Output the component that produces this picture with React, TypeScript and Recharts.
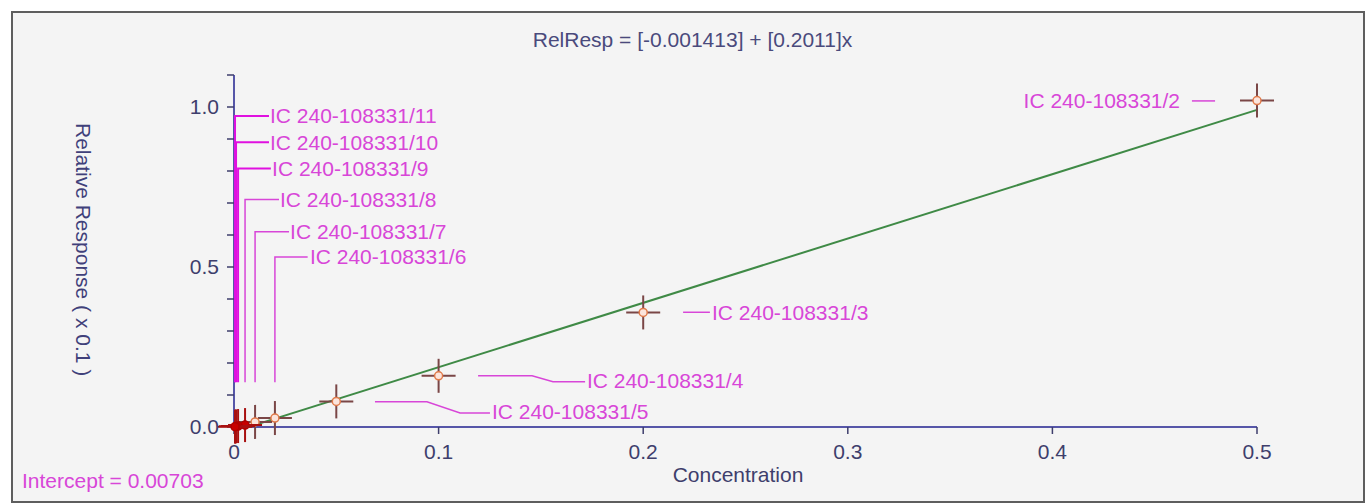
import React from 'react';
import { ComposedChart, XAxis, YAxis, Scatter } from 'recharts';

// ---- data ----
const sampleNames = [
  'IC 240-108331/2',
  'IC 240-108331/3',
  'IC 240-108331/4',
  'IC 240-108331/5',
  'IC 240-108331/6',
  'IC 240-108331/7',
  'IC 240-108331/8',
  'IC 240-108331/9',
  'IC 240-108331/10',
  'IC 240-108331/11',
];
const concentrations = [0.5, 0.2, 0.1, 0.05, 0.02, 0.0103, 0.0054, 0.002, 0.001, 0.0005];
const relResponses = [1.02, 0.358, 0.16, 0.08, 0.028, 0.016, 0.006, 0.003, 0.002, 0.001];
const sampleGroup = ['std', 'std', 'std', 'std', 'std', 'std', 'low', 'low', 'low', 'low'];

// regression line end points (x-intercept 0.00703 to x = 0.5)
const fitConcentrations = [0.00703, 0.5];
const fitResponses = [0, 0.991];

const xTicks = [0, 0.1, 0.2, 0.3, 0.4, 0.5];
const yTicks = [0, 0.1, 0.2, 0.3, 0.4, 0.5, 0.6, 0.7, 0.8, 0.9, 1.0, 1.1];
const yTickLabels = ['0.0', '', '', '', '', '0.5', '', '', '', '', '1.0', ''];
const xTickLabels = ['0', '0.1', '0.2', '0.3', '0.4', '0.5'];

const titleText = 'RelResp = [-0.001413] + [0.2011]x';
const xAxisTitle = 'Concentration';
const yAxisTitle = 'Relative Response ( x 0.1 )';
const interceptText = 'Intercept = 0.00703';

// annotation layout (in data units): label anchor and leader polyline per sample
const labelTextX = [0.4624, 0.2336, 0.1725, 0.1261, 0.0371, 0.0274, 0.0225, 0.0186, 0.0176, 0.0176];
const labelTextY = [1.019, 0.3585, 0.1447, 0.047, 0.531, 0.61, 0.711, 0.808, 0.89, 0.972];
const labelAnchor = ['end', 'start', 'start', 'start', 'start', 'start', 'start', 'start', 'start', 'start'];
const leaderX = [
  [0.4682, 0.4795],
  [0.2195, 0.2326],
  [0.1193, 0.1457, 0.1559, 0.1716],
  [0.0689, 0.0943, 0.1105, 0.1251],
  [0.02, 0.02, 0.036],
  [0.0103, 0.0103, 0.0269],
  [0.0054, 0.0054, 0.022],
  [0.002, 0.002, 0.018],
  [0.001, 0.001, 0.0171],
  [0.0005, 0.0005, 0.0171],
];
const leaderY = [
  [1.019, 1.019],
  [0.3585, 0.3585],
  [0.16, 0.16, 0.1415, 0.1415],
  [0.0786, 0.0786, 0.044, 0.044],
  [0.14, 0.531, 0.531],
  [0.14, 0.61, 0.61],
  [0.14, 0.711, 0.711],
  [0.14, 0.808, 0.808],
  [0.14, 0.89, 0.89],
  [0.14, 0.972, 0.972],
];

const FONT = '"Liberation Sans", Arial, sans-serif';
const MAGENTA = '#d846d8';
const AXIS = '#5656a8';
const TEXT_DARK = '#3e3e6c';

const points = concentrations.map((c, i) => ({
  x: c,
  y: relResponses[i],
  name: sampleNames[i],
  group: sampleGroup[i],
}));
const fitData = fitConcentrations.map((c, i) => ({ x: c, y: fitResponses[i] }));
const labelData = sampleNames.map((n, i) => ({
  x: labelTextX[i],
  y: labelTextY[i],
  text: n,
  anchor: labelAnchor[i],
}));
const leaderData = leaderX.map((xs, i) => xs.map((x, j) => ({ x, y: leaderY[i][j] })));

const Empty = () => <g />;

const PointMarker = (props: any) => {
  const { cx, cy, payload } = props;
  if (cx == null || cy == null) return <g />;
  const low = payload.group === 'low';
  const arm = 17;
  const c = low ? '#a81010' : '#7a4646';
  return (
    <g>
      <line x1={cx - arm} y1={cy} x2={cx + arm} y2={cy} stroke={c} strokeWidth={2} />
      <line x1={cx} y1={cy - arm} x2={cx} y2={cy + arm} stroke={c} strokeWidth={2} />
      <circle
        cx={cx}
        cy={cy}
        r={4}
        fill={low ? '#c80000' : '#fbe4dc'}
        stroke={low ? '#b00000' : '#e07a4a'}
        strokeWidth={1.5}
      />
    </g>
  );
};

const LabelText = (props: any) => {
  const { cx, cy, payload } = props;
  if (cx == null || cy == null) return <g />;
  return (
    <text
      x={cx}
      y={cy}
      dy="0.35em"
      textAnchor={payload.anchor}
      fill={MAGENTA}
      fontSize={21}
      fontFamily={FONT}
    >
      {payload.text}
    </text>
  );
};

export default function App() {
  return (
    <div
      style={{
        position: 'absolute',
        left: 0,
        top: 0,
        width: 1366,
        height: 504,
        background: '#ffffff',
        overflow: 'hidden',
        fontFamily: FONT,
      }}
    >
      <div
        style={{
          position: 'absolute',
          left: 11,
          top: 11,
          width: 1350,
          height: 488,
          border: '2px solid #5e5e5e',
          background: '#f4f4f4',
        }}
      />
      <div style={{ position: 'absolute', left: 0, top: 0 }}>
        <ComposedChart
          width={1366}
          height={504}
          margin={{ top: 75, right: 109, bottom: 47, left: 174 }}
        >
          <XAxis
            type="number"
            dataKey="x"
            domain={[0, 0.5]}
            ticks={xTicks}
            interval={0}
            height={30}
            tickFormatter={(v: number) => xTickLabels[xTicks.indexOf(v)] ?? ''}
            axisLine={{ stroke: AXIS, strokeWidth: 2 }}
            tickLine={{ stroke: TEXT_DARK, strokeWidth: 1.5 }}
            tickSize={7}
            tickMargin={10}
            tick={{ fill: TEXT_DARK, fontSize: 21, fontFamily: FONT }}
          />
          <YAxis
            type="number"
            dataKey="y"
            domain={[0, 1.1]}
            ticks={yTicks}
            interval={0}
            width={60}
            tickFormatter={(v: number) => {
              const idx = yTicks.findIndex((t) => Math.abs(t - v) < 1e-9);
              return idx >= 0 ? yTickLabels[idx] : '';
            }}
            axisLine={{ stroke: AXIS, strokeWidth: 2 }}
            tickLine={{ stroke: TEXT_DARK, strokeWidth: 1.5 }}
            tickSize={7}
            tickMargin={8}
            tick={{ fill: TEXT_DARK, fontSize: 21, fontFamily: FONT }}
          />
          <Scatter
            data={fitData}
            line={{ stroke: '#3f8a46', strokeWidth: 2 }}
            shape={Empty}
            isAnimationActive={false}
          />
          {leaderData.map((d, i) => (
            <Scatter
              key={'leader' + i}
              data={d}
              line={{
                stroke: i >= 7 ? '#e010e0' : MAGENTA,
                strokeWidth: i >= 7 ? 2 : 1.5,
              }}
              shape={Empty}
              isAnimationActive={false}
            />
          ))}
          <Scatter data={points} shape={PointMarker} isAnimationActive={false} />
          <Scatter data={labelData} shape={LabelText} isAnimationActive={false} />
        </ComposedChart>
      </div>
      <div
        style={{
          position: 'absolute',
          left: 0,
          width: 1385,
          top: 27,
          textAlign: 'center',
          fontSize: 21,
          color: '#4a4a7c',
          lineHeight: '26px',
          whiteSpace: 'nowrap',
        }}
      >
        {titleText}
      </div>
      <div
        style={{
          position: 'absolute',
          left: 0,
          width: 1476,
          top: 462,
          textAlign: 'center',
          fontSize: 21,
          color: TEXT_DARK,
          lineHeight: '26px',
          whiteSpace: 'nowrap',
        }}
      >
        {xAxisTitle}
      </div>
      <div
        style={{
          position: 'absolute',
          left: 70,
          top: 110,
          height: 280,
          writingMode: 'vertical-rl',
          textAlign: 'center',
          fontSize: 21,
          color: '#40407a',
          lineHeight: '26px',
          whiteSpace: 'nowrap',
        }}
      >
        {yAxisTitle}
      </div>
      <div
        style={{
          position: 'absolute',
          left: 22,
          top: 468,
          fontSize: 21,
          color: MAGENTA,
          lineHeight: '26px',
          whiteSpace: 'nowrap',
        }}
      >
        {interceptText}
      </div>
    </div>
  );
}
